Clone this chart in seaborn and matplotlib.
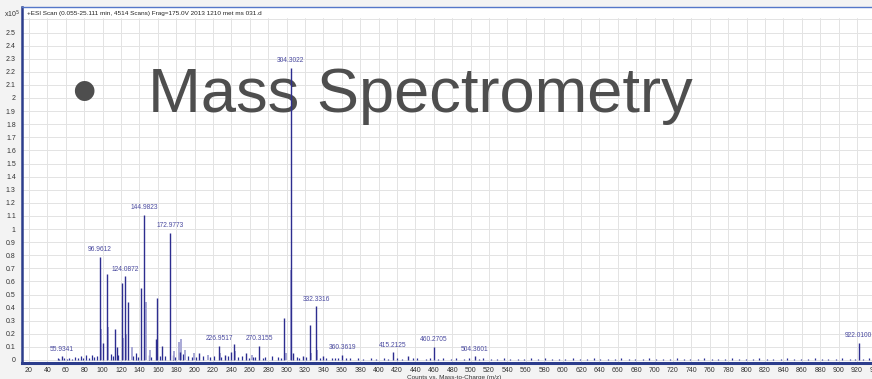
import numpy as np
import pandas as pd
import matplotlib
matplotlib.use("Agg")
import matplotlib.pyplot as plt
import seaborn as sns

# ---------------- data (intensity in units of 10^5 counts) ----------------
major_mz = [55.93, 96.96, 100.0, 104.4, 113.5, 115.5, 120.8, 124.09, 127.3, 141.7,
            144.98, 157.7, 158.8, 165.0, 172.98, 184.0, 205.0, 226.95, 233.0, 240.0,
            242.5, 256.0, 270.32, 297.0, 304.30, 307.0, 318.0, 325.0, 332.33, 340.0,
            360.36, 415.21, 432.0, 460.27, 504.36, 922.01]
major_int = [0.03, 0.79, 0.13, 0.66, 0.24, 0.10, 0.59, 0.64, 0.44, 0.55,
             1.11, 0.16, 0.47, 0.11, 0.97, 0.06, 0.05, 0.11, 0.04, 0.06,
             0.12, 0.05, 0.11, 0.32, 2.23, 0.05, 0.03, 0.27, 0.41, 0.03,
             0.04, 0.06, 0.03, 0.10, 0.03, 0.13]

light_mz = [98.3, 105.5, 122.0, 125.2, 131.6, 146.8, 152.0, 178.0, 183.0, 185.5,
            190.0, 199.0, 215.0, 228.0, 244.0, 262.0, 299.0, 305.3, 326.5, 333.3]
light_int = [0.24, 0.25, 0.17, 0.20, 0.10, 0.44, 0.08, 0.07, 0.14, 0.16,
             0.08, 0.05, 0.04, 0.05, 0.07, 0.04, 0.05, 0.69, 0.05, 0.08]

noise_mz = [51, 53, 58, 61, 64, 67, 70, 73, 76, 79, 82, 85, 88, 91, 94, 109, 111,
            117, 133, 136, 139, 150, 153, 162, 168, 176, 179, 187, 193, 197, 201,
            209, 217, 221, 229, 236, 247, 251, 259, 263, 266, 274, 277, 284, 291,
            294, 311, 314, 321, 336, 343, 349, 353, 356, 365, 369, 378, 383, 392,
            397, 406, 410, 420, 425, 437, 442, 451, 456, 465, 470, 479, 484, 493,
            498, 509, 514, 522, 529, 536, 543, 551, 558, 566, 573, 581, 588, 596,
            603, 611, 619, 626, 634, 641, 649, 657, 664, 672, 679, 687, 694, 702,
            709, 717, 724, 732, 739, 747, 754, 762, 769, 777, 784, 792, 799, 807,
            814, 822, 829, 837, 844, 852, 859, 867, 874, 882, 889, 897, 904, 912,
            918, 926, 933]
noise_int = [0.012, 0.008, 0.015, 0.010, 0.018, 0.009, 0.022, 0.012, 0.030, 0.014,
             0.035, 0.018, 0.040, 0.020, 0.032, 0.045, 0.028, 0.036, 0.030, 0.050,
             0.024, 0.038, 0.022, 0.034, 0.028, 0.036, 0.025, 0.042, 0.030, 0.020,
             0.026, 0.030, 0.022, 0.028, 0.020, 0.030, 0.024, 0.030, 0.018, 0.026,
             0.020, 0.018, 0.022, 0.028, 0.020, 0.018, 0.024, 0.016, 0.020, 0.014,
             0.018, 0.016, 0.014, 0.012, 0.015, 0.012, 0.014, 0.010, 0.013, 0.011,
             0.012, 0.010, 0.014, 0.011, 0.016, 0.012, 0.010, 0.013, 0.011, 0.012,
             0.010, 0.014, 0.011, 0.012, 0.010, 0.013, 0.011, 0.009, 0.012, 0.010,
             0.011, 0.009, 0.012, 0.010, 0.013, 0.009, 0.011, 0.010, 0.012, 0.009,
             0.010, 0.012, 0.009, 0.011, 0.010, 0.012, 0.009, 0.011, 0.010, 0.013,
             0.009, 0.011, 0.010, 0.012, 0.009, 0.011, 0.010, 0.012, 0.009, 0.011,
             0.010, 0.012, 0.009, 0.011, 0.010, 0.012, 0.009, 0.011, 0.010, 0.012,
             0.009, 0.011, 0.010, 0.012, 0.009, 0.011, 0.010, 0.012, 0.011, 0.010,
             0.009, 0.012]

label_mz = [55.93, 96.96, 124.09, 144.98, 172.98, 226.95, 270.32, 304.30, 332.33,
            360.36, 415.21, 460.27, 504.36, 922.01]
label_int = [0.03, 0.79, 0.64, 1.11, 0.97, 0.11, 0.11, 2.23, 0.41,
             0.04, 0.06, 0.10, 0.03, 0.13]
label_text = ["55.9341", "96.9612", "124.0872", "144.9823", "172.9773", "226.9517",
              "270.3155", "304.3022", "332.3316", "360.3619", "415.2125", "460.2705",
              "504.3601", "922.0100"]

x_ticks = list(range(20, 960, 20))
y_ticks = [round(0.1 * i, 1) for i in range(0, 26)]
y_tick_labels = ["0" if v == 0 else ("%g" % v) for v in y_ticks]

header = "+ESI Scan (0.055-25.111 min, 4514 Scans) Frag=175.0V 2013 1210 met ms 031.d"
x_title = "Counts vs. Mass-to-Charge (m/z)"
slide_title = "Mass Spectrometry"

# ---------------- styling ----------------
sns.set_style("white")
plt.rcParams["font.family"] = ["Liberation Sans", "DejaVu Sans"]

W, H = 872, 379
fig = plt.figure(figsize=(W / 100, H / 100), dpi=100, facecolor="#f3f3f3")
ax_left, ax_right, ax_top, ax_bottom = 22, 890, 7, 362.5
ax = fig.add_axes([ax_left / W, (H - ax_bottom) / H,
                   (ax_right - ax_left) / W, (ax_bottom - ax_top) / H])
ax.set_facecolor("white")

px_per_unit = 0.92
xmin = 20 - (29 - ax_left) / px_per_unit
xmax = 20 + (ax_right - 29) / px_per_unit
ax.set_xlim(xmin, xmax)
ax.set_ylim(-(ax_bottom - 360) / 131.0, (360 - ax_top) / 131.0)

# grid
ax.set_axisbelow(True)
for xv in x_ticks:
    ax.axvline(xv, color="#e3e3e3", lw=0.7, zorder=0.5)
for yv in y_ticks + [2.6]:
    ax.axhline(yv, color="#e3e3e3", lw=0.7, zorder=0.5)
ax.axhspan(2.62, 3.0, color="white", zorder=0.8)

# spectrum sticks
noise_df = pd.DataFrame({"mz": noise_mz, "int": noise_int})
light_df = pd.DataFrame({"mz": light_mz, "int": light_int})
major_df = pd.DataFrame({"mz": major_mz, "int": major_int})
ax.vlines(noise_df["mz"], 0, noise_df["int"], color="#2a2f95", lw=0.9, zorder=2.4)
ax.vlines(light_df["mz"], 0, light_df["int"], color="#a3a3d3", lw=1.3, zorder=2.5)
ax.vlines(major_df["mz"], 0, major_df["int"], color="#2d2d8f", lw=1.0, zorder=2.6)

# peak labels
for m, h, t in zip(label_mz, label_int, label_text):
    ax.annotate(t, (m, h), xytext=(0, 2.5), textcoords="offset points",
                ha="center", va="bottom", fontsize=4.8, color="#4b4ba0", zorder=3)

# ticks
ax.set_xticks(x_ticks)
ax.set_xticklabels([str(v) for v in x_ticks])
ax.set_yticks(y_ticks)
ax.set_yticklabels(y_tick_labels)
ax.tick_params(axis="both", direction="out", length=3, width=0.7,
               labelsize=5, colors="#333333", pad=1.5)
ax.tick_params(axis="x", length=2.5, pad=0.8)

# spines
ax.spines["right"].set_visible(False)
ax.spines["left"].set_color("#2c3d8c")
ax.spines["left"].set_linewidth(1.8)
ax.spines["bottom"].set_color("#2c3d8c")
ax.spines["bottom"].set_linewidth(2.2)
ax.spines["top"].set_color("#5577c8")
ax.spines["top"].set_linewidth(1.0)

# texts
fig.text(4 / W, 1 - 14 / H, r"x10$^5$", fontsize=5, color="#333333", va="center", ha="left")
fig.text(27 / W, 1 - 14 / H, header, fontsize=4.6, color="#222222", va="center", ha="left")
fig.text(407 / W, 1 - 377 / H, x_title, fontsize=4.6, color="#333333", va="center", ha="left")

ax.text(84 / W, 1 - 89 / H, "\u2022", transform=fig.transFigure, fontsize=52,
        color="#4e4e4e", ha="center", va="center_baseline", zorder=1.5)
ax.text(148 / W, 1 - 112 / H, slide_title, transform=fig.transFigure, fontsize=45.5,
        color="#4e4e4e", ha="left", va="baseline", zorder=1.5)

fig.savefig("out.png", dpi=100, facecolor=fig.get_facecolor())
